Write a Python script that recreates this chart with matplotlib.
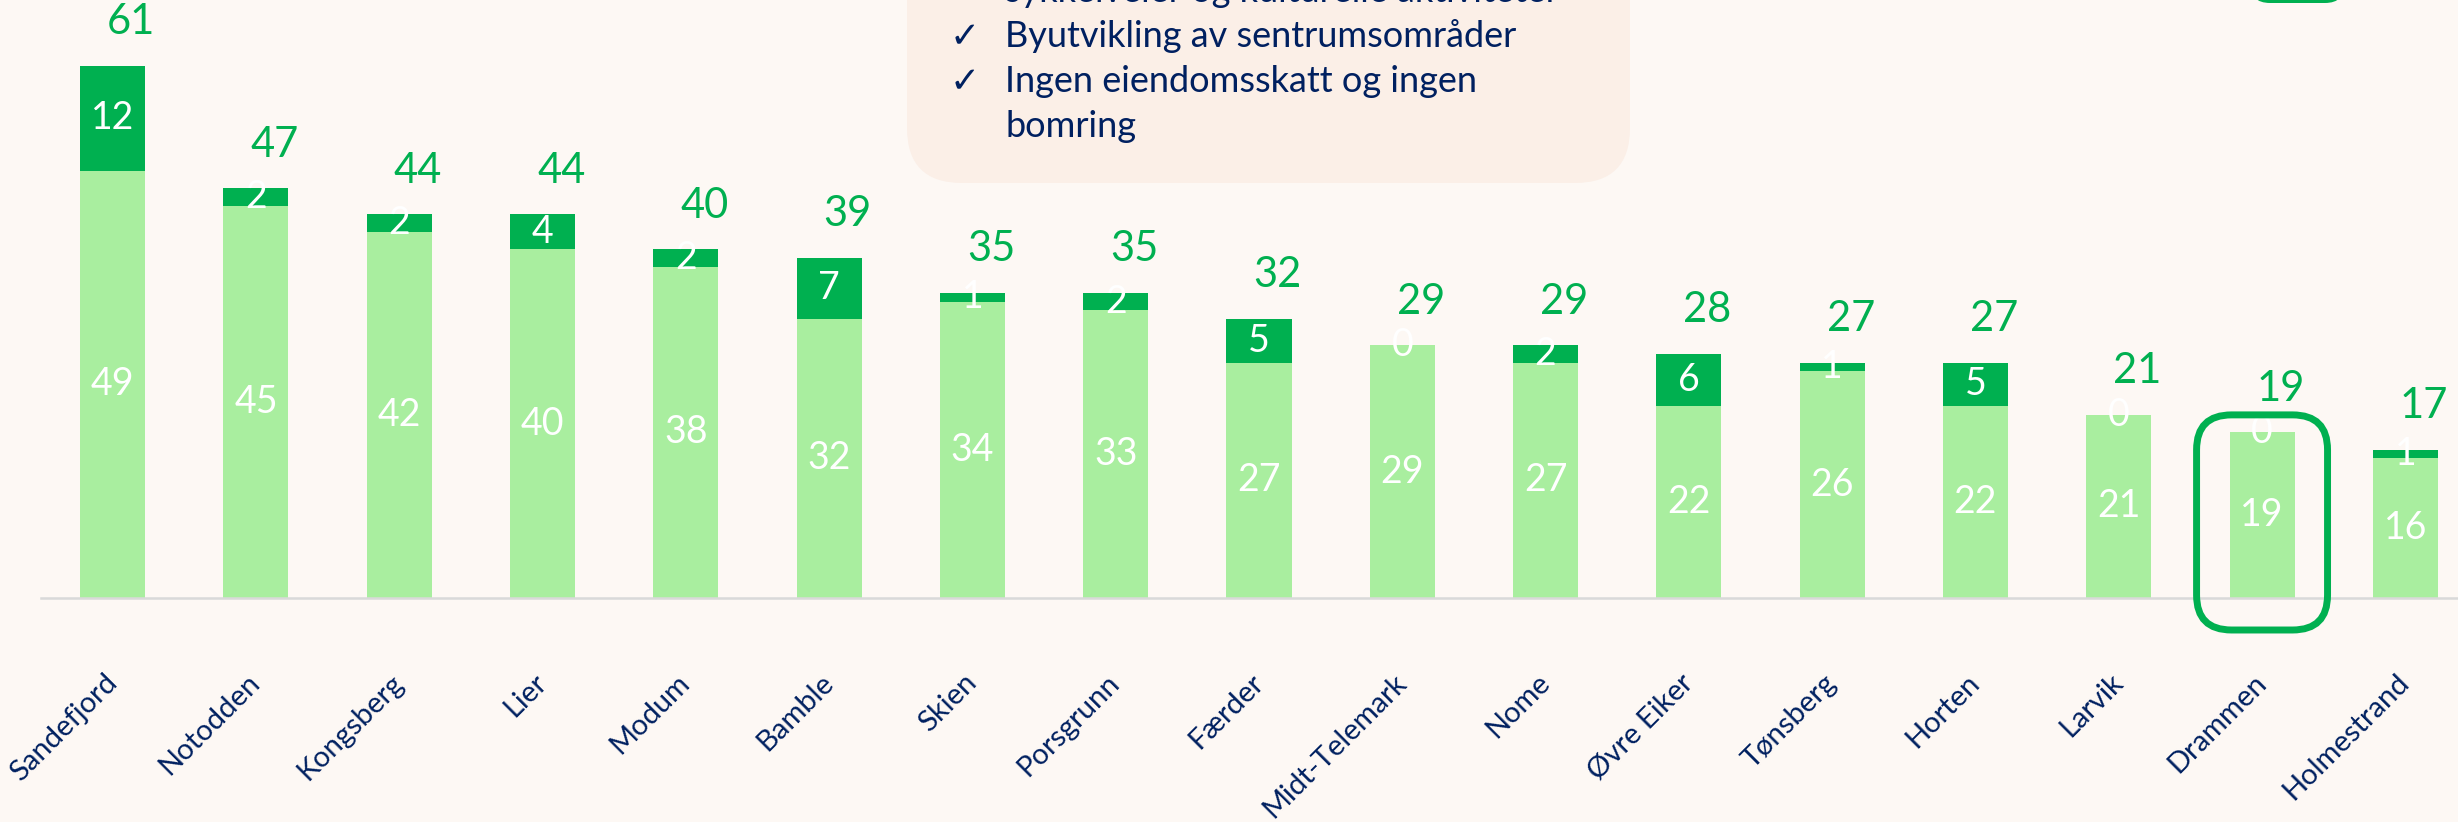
import matplotlib
matplotlib.use("Agg")
import matplotlib.pyplot as plt
from matplotlib.patches import FancyBboxPatch
import numpy as np

plt.rcParams['font.family'] = ['Lato', 'DejaVu Sans']

kommuner = ['Sandefjord', 'Notodden', 'Kongsberg', 'Lier', 'Modum', 'Bamble', 'Skien',
            'Porsgrunn', 'Færder', 'Midt-Telemark', 'Nome', 'Øvre Eiker', 'Tønsberg',
            'Horten', 'Larvik', 'Drammen', 'Holmestrand']
base_vals = [49, 45, 42, 40, 38, 32, 34, 33, 27, 29, 27, 22, 26, 22, 21, 19, 16]
top_vals = [12, 2, 2, 4, 2, 7, 1, 2, 5, 0, 2, 6, 1, 5, 0, 0, 1]
totals = [61, 47, 44, 44, 40, 39, 35, 35, 32, 29, 29, 28, 27, 27, 21, 19, 17]
highlight = 'Drammen'

box_lines = ['sykkelveier og kulturelle aktiviteter',
             'Byutvikling av sentrumsområder',
             'Ingen eiendomsskatt og ingen',
             'bomring']
box_checks = [False, True, True, False]

BG = '#FDF8F4'
LIGHT = '#A9EE9F'
DARK = '#00B050'
NAVY = '#002060'

fig = plt.figure(figsize=(24.58, 8.22), dpi=100, facecolor=BG)
ax = fig.add_axes([41 / 2458, 224 / 822, 2436 / 2458, 598 / 822])
ax.set_facecolor('none')

x = np.arange(len(kommuner))
w = 0.454
ax.bar(x, base_vals, w, color=LIGHT, zorder=2)
ax.bar(x, top_vals, w, bottom=base_vals, color=DARK, zorder=2)

for i in range(len(kommuner)):
    b, t = base_vals[i], top_vals[i]
    ax.text(x[i], b / 2, str(b), ha='center', va='center', color='white',
            fontsize=27, zorder=3)
    ax.text(x[i], b + t / 2, str(t), ha='center', va='center', color='white',
            fontsize=27, zorder=3)
    ax.text(x[i] + 0.13, totals[i] + 5.0, str(totals[i]), ha='center', va='center',
            color=DARK, fontsize=30, zorder=3)

ax.set_xlim(-0.5, 16.5)
ax.set_ylim(0, 68.58)
for s in ['top', 'right', 'left']:
    ax.spines[s].set_visible(False)
ax.spines['bottom'].set_color('#D9D9D9')
ax.spines['bottom'].set_linewidth(1.8)
ax.set_yticks([])
ax.set_xticks(x)
ax.set_xticklabels(kommuner, rotation=45, ha='right', va='center',
                   rotation_mode='anchor', color=NAVY, fontsize=21)
ax.tick_params(axis='x', length=0, pad=58)

# highlight box around Drammen
hi = kommuner.index(highlight)
hl = FancyBboxPatch((hi - 0.457, -3.67), 0.914, 24.67,
                    boxstyle='round,pad=0,rounding_size=0.244',
                    mutation_aspect=16.4, fill=False, edgecolor=DARK,
                    linewidth=5, clip_on=False, zorder=4)
ax.add_patch(hl)

# text box at the top (cut off by the figure edge)
tr = fig.dpi_scale_trans
tb = FancyBboxPatch((9.07, 6.39), 7.23, 3.0, boxstyle='round,pad=0,rounding_size=0.55',
                    transform=tr, facecolor='#FBEFE7', edgecolor='none', zorder=0)
fig.patches.append(tb)
gb = FancyBboxPatch((22.50, 8.19), 0.95, 1.0, boxstyle='round,pad=0,rounding_size=0.2',
                    transform=tr, facecolor=DARK, edgecolor='none', zorder=0)
fig.patches.append(gb)

for k, (line, chk) in enumerate(zip(box_lines, box_checks)):
    yb = (822 - (2 + 45 * k)) / 100
    fig.text(10.05, yb, line, transform=tr, ha='left', va='baseline',
             color=NAVY, fontsize=26)
    if chk:
        fig.text(9.50, yb, '✓', transform=tr, ha='left', va='baseline',
                 color=NAVY, fontsize=26, family=['DejaVu Sans'])

fig.savefig('out.png', dpi=100, facecolor=BG)
